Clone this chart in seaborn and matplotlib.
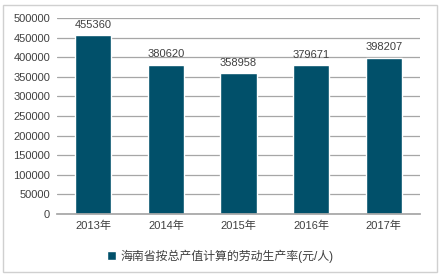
import matplotlib
matplotlib.use("Agg")
import matplotlib.pyplot as plt
import seaborn as sns
import pandas as pd
from matplotlib.patches import Rectangle

years = ["2013年", "2014年", "2015年", "2016年", "2017年"]
values = [455360, 380620, 358958, 379671, 398207]
series_name = "海南省按总产值计算的劳动生产率(元/人)"
yticks = [0, 50000, 100000, 150000, 200000, 250000, 300000, 350000, 400000, 450000, 500000]

sns.set_theme(style="white")
plt.rcParams['font.family'] = ['Liberation Sans', 'Noto Sans CJK SC', 'DejaVu Sans']

df = pd.DataFrame({"year": years, "value": values})
color = "#01506A"

fig = plt.figure(figsize=(4.41, 2.77), dpi=100)
ax = fig.add_axes([57/441, 1-214/277, (420-57)/441, (214-18)/277])

sns.barplot(data=df, x="year", y="value", color=color, width=0.5, ax=ax,
            saturation=1)

ax.set_ylim(0, 500000)
ax.set_yticks(yticks)
ax.set_yticklabels([str(t) for t in yticks], fontsize=8, color="#404040")
ax.set_xticklabels(years, fontsize=8, color="#404040")
ax.set_xlabel("")
ax.set_ylabel("")
ax.yaxis.grid(True, color="#A6A6A6", linewidth=0.9)
ax.set_axisbelow(True)
for s in ["left", "right", "top"]:
    ax.spines[s].set_visible(False)
ax.spines["bottom"].set_color("#A6A6A6")
ax.tick_params(axis="both", length=0, pad=5)

for p, v in zip(ax.patches, values):
    ax.annotate(str(v), (p.get_x() + p.get_width()/2, v), xytext=(0, 4),
                textcoords="offset points", ha="center", va="bottom",
                fontsize=8, color="#404040")

handle = Rectangle((0, 0), 1, 1, facecolor=color)
leg = fig.legend([handle], [series_name], loc="center", bbox_to_anchor=(0.5, 1-256/277),
                 frameon=False, fontsize=8.6, handlelength=0.7, handleheight=0.7,
                 handletextpad=0.4)
for t in leg.get_texts():
    t.set_color("#404040")

fig.patches.append(Rectangle((3/441, 5/277), 434/441, 267/277, transform=fig.transFigure,
                             fill=False, edgecolor="#D0D0D0", linewidth=1))

fig.savefig("out.png", dpi=100)
